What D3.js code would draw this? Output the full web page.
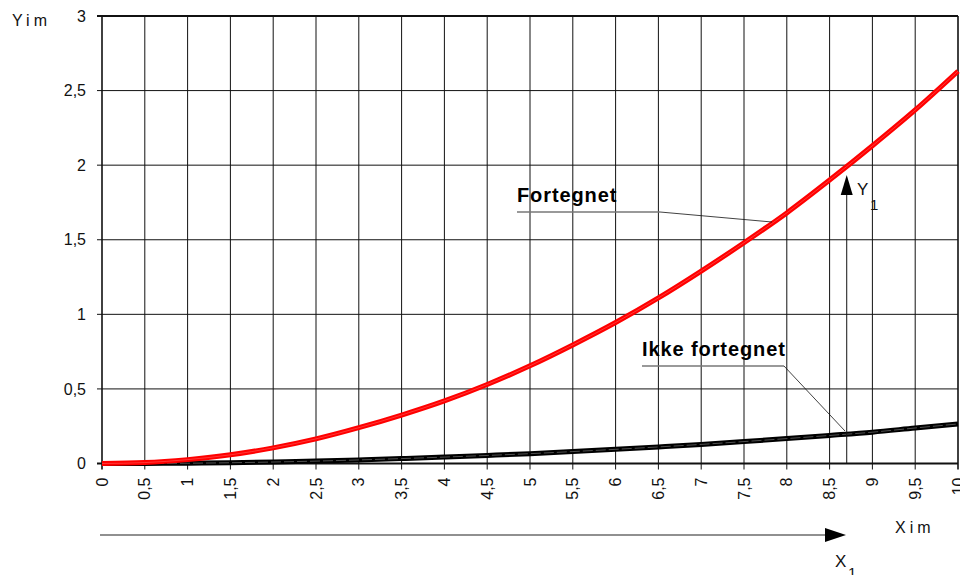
<!DOCTYPE html>
<html><head><meta charset="utf-8">
<script src="https://cdn.jsdelivr.net/npm/d3@7"></script>
<style>
html,body{margin:0;padding:0;background:#fff;}
svg{display:block;}
.narrow{font-family:"Liberation Sans Narrow","Arial Narrow","Liberation Sans",Arial,sans-serif;}
</style></head>
<body>
<svg id="chart" width="960" height="575"></svg>
<script>
const xValues = [0,0.5,1,1.5,2,2.5,3,3.5,4,4.5,5,5.5,6,6.5,7,7.5,8,8.5,9,9.5,10];
const fortegnet = [0,0.006,0.026,0.058,0.105,0.165,0.24,0.325,0.42,0.53,0.655,0.795,0.945,1.11,1.29,1.48,1.68,1.9,2.13,2.37,2.63];
const ikkeFortegnet = [0,0.0005,0.002,0.005,0.01,0.016,0.024,0.033,0.043,0.054,0.066,0.08,0.095,0.111,0.128,0.147,0.167,0.188,0.21,0.238,0.265];
const xTickValues = [0,0.5,1,1.5,2,2.5,3,3.5,4,4.5,5,5.5,6,6.5,7,7.5,8,8.5,9,9.5,10];
const xTickLabels = ["0","0,5","1","1,5","2","2,5","3","3,5","4","4,5","5","5,5","6","6,5","7","7,5","8","8,5","9","9,5","10"];
const yTickValues = [0,0.5,1,1.5,2,2.5,3];
const yTickLabels = ["0","0,5","1","1,5","2","2,5","3"];
const markerX = 8.7;

const svg = d3.select("#chart");
const x = d3.scaleLinear().domain([0,10]).range([102,958]);
const y = d3.scaleLinear().domain([0,3]).range([463.5,16]);

// grid
const g = svg.append("g");
g.selectAll("line.v").data(xTickValues).join("line")
  .attr("x1",d=>x(d)).attr("x2",d=>x(d)).attr("y1",y(3)).attr("y2",y(0)+6)
  .attr("stroke","#111").attr("stroke-width",d=>(d===0||d===10)?1.6:1);
g.selectAll("line.h").data(yTickValues).join("line")
  .attr("x1",x(0)-5).attr("x2",x(10)).attr("y1",d=>y(d)).attr("y2",d=>y(d))
  .attr("stroke","#111").attr("stroke-width",d=>(d===0||d===3)?1.8:1);

// y tick labels
g.selectAll("text.yl").data(yTickValues).join("text")
  .attr("class","narrow").attr("x",86).attr("y",d=>y(d)).attr("dy","0.35em")
  .attr("text-anchor","end").attr("font-size",16).attr("fill","#111")
  .text((d,i)=>yTickLabels[i]);

// x tick labels (rotated)
g.selectAll("text.xl").data(xTickValues).join("text")
  .attr("class","narrow").attr("font-size",16).attr("fill","#111")
  .attr("text-anchor","end")
  .attr("transform",d=>`translate(${x(d)},${y(0)+14}) rotate(-90)`)
  .attr("dy","0.35em")
  .text((d,i)=>xTickLabels[i]);

// axis titles
svg.append("text").attr("class","narrow").attr("x",12).attr("y",26).attr("font-size",16)
  .attr("letter-spacing",4).attr("fill","#111").text("Yim");
svg.append("text").attr("class","narrow").attr("x",895).attr("y",533).attr("font-size",16)
  .attr("letter-spacing",4).attr("fill","#111").text("Xim");

// curves
const line = d3.line().x((d,i)=>x(xValues[i])).y(d=>y(d)).curve(d3.curveMonotoneX);
svg.append("path").attr("d",line(ikkeFortegnet)).attr("fill","none").attr("stroke","#000").attr("stroke-width",5);
svg.append("path").attr("d",line(ikkeFortegnet)).attr("fill","none").attr("stroke","#888").attr("stroke-width",0.6).attr("stroke-dasharray","10,3");
svg.append("path").attr("d",line(fortegnet)).attr("fill","none").attr("stroke","#ff0000").attr("stroke-width",5);
svg.append("path").attr("d",line(fortegnet)).attr("fill","none").attr("stroke","#ff5a5a").attr("stroke-width",0.6);

// Y1 marker
const mx = x(markerX);
svg.append("line").attr("x1",mx).attr("x2",mx).attr("y1",194).attr("y2",y(0)).attr("stroke","#111").attr("stroke-width",1);
svg.append("path").attr("d",`M${mx},175 L${mx-6},195 L${mx+6},195 Z`).attr("fill","#000");
svg.append("text").attr("class","narrow").attr("x",857).attr("y",195).attr("font-size",17).attr("fill","#111").text("Y");
svg.append("text").attr("class","narrow").attr("x",870).attr("y",210).attr("font-size",15).attr("fill","#111").text("1");

// X1 arrow
svg.append("line").attr("x1",100).attr("x2",830).attr("y1",535).attr("y2",535).attr("stroke","#222").attr("stroke-width",1.2);
svg.append("path").attr("d",`M846,535 L825,528 L825,542 Z`).attr("fill","#000");
svg.append("text").attr("class","narrow").attr("x",835).attr("y",567).attr("font-size",17).attr("fill","#111").text("X");
svg.append("text").attr("class","narrow").attr("x",848).attr("y",578).attr("font-size",15).attr("fill","#111").text("1");

// annotations
function annot(label, tx, ty, ulEnd, ptX, ptY){
  svg.append("line").attr("x1",tx).attr("x2",ulEnd).attr("y1",ty+10).attr("y2",ty+10).attr("stroke","#777").attr("stroke-width",1.5);
  svg.append("line").attr("x1",ulEnd).attr("x2",ptX).attr("y1",ty+10).attr("y2",ptY).attr("stroke","#111").attr("stroke-width",0.8);
  svg.append("text").attr("x",tx).attr("y",ty).attr("font-family","'Liberation Sans',Arial,sans-serif")
    .attr("font-weight","bold").attr("font-size",20).attr("letter-spacing",0.9).attr("fill","#000").text(label);
}
annot("Fortegnet", 517, 202, 660, 772, 222);
annot("Ikke fortegnet", 642, 356, 784, 845, 431);
</script>
</body></html>
